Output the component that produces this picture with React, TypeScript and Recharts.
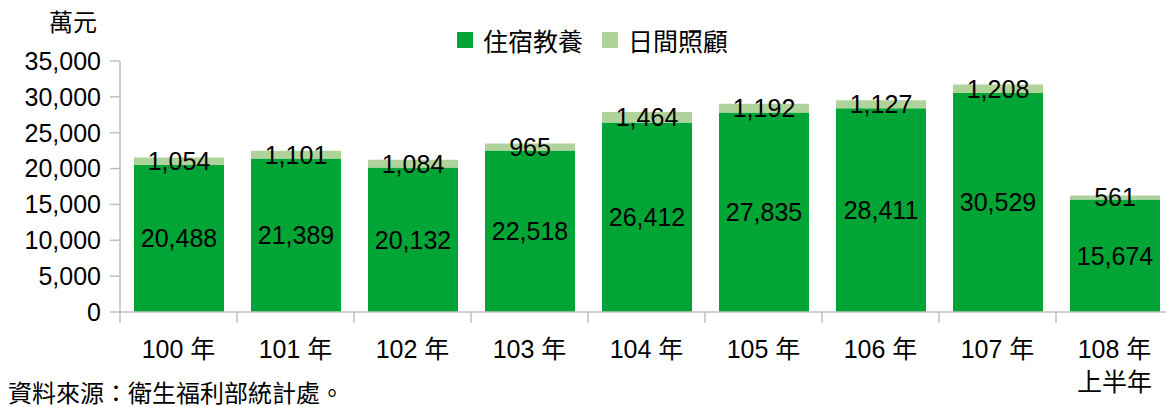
import { Bar, BarChart, LabelList, XAxis, YAxis } from 'recharts';

// 身心障礙者 住宿教養 / 日間照顧 補助經費（萬元）
const CATEGORIES = ['100 年', '101 年', '102 年', '103 年', '104 年', '105 年', '106 年', '107 年', '108 年\n上半年'];
const RESIDENTIAL = [20488, 21389, 20132, 22518, 26412, 27835, 28411, 30529, 15674];
const DAYCARE = [1054, 1101, 1084, 965, 1464, 1192, 1127, 1208, 561];
const Y_TICKS = [0, 5000, 10000, 15000, 20000, 25000, 30000, 35000];

const SERIES_NAMES = ['住宿教養', '日間照顧'];
const DARK_GREEN = '#00a535';
const LIGHT_GREEN = '#afd39a';
const AXIS_GRAY = '#bfbfbf';
const FONT = '"Liberation Sans", "Noto Sans CJK TC", sans-serif';

// the plot runs a little past the right edge of the picture, so the chart is wider than the frame
const W = 1166;
const CHART_W = 1174;
const H = 407;
const MARGIN = { top: 61, right: 1, left: 0, bottom: 15 };
const Y_AXIS_W = 120;
const BAND_W = (CHART_W - MARGIN.left - MARGIN.right - Y_AXIS_W) / CATEGORIES.length;

const data = CATEGORIES.map((label, i) => ({
  label,
  residential: RESIDENTIAL[i],
  daycare: DAYCARE[i],
}));

const fmt = (v: number) => new Intl.NumberFormat('en-US').format(v);

function XTick(props: any) {
  const { x, y, payload } = props;
  const lines = String(payload.value).split('\n');
  return (
    <g>
      <line x1={x - BAND_W / 2} x2={x - BAND_W / 2} y1={y - 8} y2={y + 3} stroke={AXIS_GRAY} strokeWidth={1.5} />
      {lines.map((t, k) => (
        <text key={k} x={x} y={y + 38 + k * 33} textAnchor="middle" fontSize={25} fontFamily={FONT} fill="#000">
          {t}
        </text>
      ))}
    </g>
  );
}

export default function App() {
  return (
    <div
      style={{
        position: 'absolute',
        left: 0,
        top: 0,
        width: W,
        height: H,
        overflow: 'hidden',
        background: '#fff',
        fontFamily: FONT,
      }}
    >
      <div style={{ position: 'absolute', left: 49, top: 3, fontSize: 24, color: '#000' }}>萬元</div>
      <div
        style={{
          position: 'absolute',
          left: 457,
          top: 22,
          display: 'flex',
          alignItems: 'center',
          fontSize: 25,
          color: '#000',
        }}
      >
        {SERIES_NAMES.map((name, i) => (
          <span key={name} style={{ display: 'flex', alignItems: 'center', marginRight: 19 }}>
            <span style={{ width: 16, height: 16, background: i === 0 ? DARK_GREEN : LIGHT_GREEN, marginRight: 10 }} />
            {name}
          </span>
        ))}
      </div>
      <BarChart width={CHART_W} height={H} data={data} margin={MARGIN} barSize={90}>
        <XAxis
          dataKey="label"
          interval={0}
          height={80}
          axisLine={{ stroke: AXIS_GRAY, strokeWidth: 1.5 }}
          tickLine={false}
          tick={<XTick />}
        />
        <YAxis
          width={Y_AXIS_W}
          domain={[0, 35000]}
          ticks={Y_TICKS}
          interval={0}
          tickFormatter={fmt}
          tickSize={10}
          tickMargin={9}
          axisLine={{ stroke: AXIS_GRAY, strokeWidth: 1.5 }}
          tickLine={{ stroke: AXIS_GRAY, strokeWidth: 1.5 }}
          tick={{ fontSize: 25, fill: '#000', fontFamily: FONT }}
        />
        <Bar dataKey="residential" stackId="a" fill={DARK_GREEN} isAnimationActive={false}>
          <LabelList dataKey="residential" position="center" formatter={(v: any) => fmt(Number(v))} fill="#000" fontSize={25} fontFamily={FONT} />
        </Bar>
        <Bar dataKey="daycare" stackId="a" fill={LIGHT_GREEN} isAnimationActive={false}>
          <LabelList dataKey="daycare" position="center" formatter={(v: any) => fmt(Number(v))} fill="#000" fontSize={25} fontFamily={FONT} />
        </Bar>
      </BarChart>
      <div style={{ position: 'absolute', left: 8, top: 374, fontSize: 24, color: '#000' }}>資料來源：衛生福利部統計處。</div>
    </div>
  );
}
